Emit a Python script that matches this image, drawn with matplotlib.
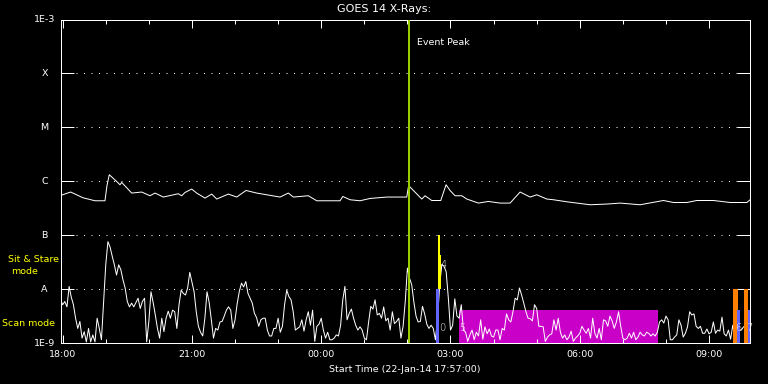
import numpy as np
import matplotlib
matplotlib.use("Agg")
import matplotlib.pyplot as plt

# ---------------- data (time in hours after 22-Jan-14 18:00) ----------------
long_t = [-0.05, 0.186, 0.471, 0.75, 0.959, 0.982, 1.028, 1.082, 1.253, 1.33, 1.37,
          1.602, 1.834, 2.026, 2.143, 2.335, 2.683, 2.762, 2.839, 2.994, 3.11, 3.303,
          3.459, 3.575, 3.844, 4.039, 4.255, 4.503, 5.044, 5.237, 5.353, 5.701, 5.896,
          6.437, 6.50, 6.669, 6.901, 7.133, 7.521, 7.83, 7.985, 8.022, 8.062, 8.333,
          8.41, 8.565, 8.774, 8.897, 8.99, 9.106, 9.262, 9.378, 9.647, 9.879, 10.151,
          10.383, 10.615, 10.847, 11.003, 11.235, 11.388, 11.699, 12.24, 12.628,
          12.937, 13.4, 13.942, 14.174, 14.485, 14.717, 15.102, 15.49, 15.877, 15.954]
long_logflux = [-6.264, -6.20, -6.306, -6.362, -6.362, -6.362, -6.083, -5.879, -6.004,
                -6.065, -6.022, -6.219, -6.20, -6.269, -6.219, -6.293, -6.232, -6.269,
                -6.208, -6.145, -6.219, -6.312, -6.238, -6.330, -6.238, -6.293, -6.171,
                -6.219, -6.293, -6.219, -6.293, -6.269, -6.362, -6.362, -6.282, -6.343,
                -6.362, -6.319, -6.293, -6.293, -6.293, -6.108, -6.108, -6.330, -6.269,
                -6.357, -6.357, -6.065, -6.171, -6.269, -6.269, -6.33, -6.405, -6.375,
                -6.405, -6.405, -6.20, -6.293, -6.251, -6.33, -6.343, -6.381, -6.436,
                -6.423, -6.405, -6.436, -6.357, -6.394, -6.394, -6.357, -6.357, -6.394,
                -6.394, -6.343]

short_start = -0.05   # 17:57
short_step = 0.05     # 3-minute samples
short_logflux = [
    -8.20, -8.29, -8.23, -8.33, -7.95, -8.15, -8.29, -8.54, -8.73, -8.60,
    -8.91, -8.79, -8.98, -8.73, -8.98, -8.85, -8.98, -8.54, -8.73, -8.94,
    -8.23, -7.55, -7.12, -7.22, -7.39, -7.55, -7.74, -7.55, -7.64, -7.83,
    -7.98, -8.23, -8.33, -8.26, -8.33, -8.25, -8.17, -8.36, -8.23, -8.17,
    -8.98, -8.60, -8.05, -8.25, -8.48, -8.73, -8.91, -8.54, -8.79, -8.54,
    -8.41, -8.54, -8.39, -8.42, -8.73, -8.29, -8.02, -8.08, -8.11, -7.98,
    -7.69, -7.87, -8.05, -8.42, -8.69, -8.80, -8.87, -8.54, -8.05, -8.25,
    -8.57, -8.91, -8.73, -8.76, -8.61, -8.60, -8.50, -8.39, -8.33, -8.39,
    -8.73, -8.57, -8.27, -8.04, -7.89, -7.96, -7.86, -8.08, -8.17, -8.26,
    -8.45, -8.53, -8.69, -8.57, -8.54, -8.54, -8.76, -8.87, -8.87, -8.73,
    -8.73, -8.54, -8.80, -8.69, -8.29, -8.02, -8.14, -8.20, -8.42, -8.76,
    -8.73, -8.70, -8.57, -8.78, -8.57, -8.42, -8.67, -8.39, -8.97, -8.69,
    -8.65, -8.54, -8.76, -8.91, -8.80, -8.94, -8.94, -8.91, -8.85, -8.87,
    -8.67, -8.20, -7.95, -8.57, -8.45, -8.37, -8.54, -8.67, -8.76, -8.70,
    -8.76, -8.91, -8.94, -8.61, -8.32, -8.37, -8.20, -8.48, -8.45, -8.54,
    -8.33, -8.59, -8.54, -8.76, -8.42, -8.64, -8.60, -8.54, -8.91, -8.69,
    -8.23, -7.61, -7.80, -7.92, -8.24, -8.50, -8.61, -8.60, -8.32, -8.46,
    -8.65, -8.73, -8.67, -8.73, -8.94, -8.54, -7.92, -7.54, -7.58, -7.68,
    -8.17, -8.76, -8.67, -8.18, -8.50, -8.54, -8.29, -8.76, -8.80, -8.97,
    -8.85, -8.76, -8.94, -8.80, -8.87, -8.57, -8.93, -8.70, -8.83, -8.74,
    -8.87, -8.89, -8.76, -8.76, -8.94, -8.73, -8.76, -8.46, -8.57, -8.61,
    -8.42, -8.17, -8.20, -7.98, -8.11, -8.26, -8.42, -8.54, -8.55, -8.59,
    -8.29, -8.36, -8.69, -8.69, -8.70, -8.97, -8.89, -8.85, -8.83, -8.57,
    -8.76, -8.54, -8.80, -8.91, -8.85, -8.94, -8.89, -8.78, -8.97, -8.91,
    -8.87, -8.82, -8.69, -8.76, -8.82, -8.73, -8.91, -8.54, -8.82, -8.91,
    -8.73, -8.94, -8.57, -8.59, -8.69, -8.50, -8.59, -8.73, -8.61, -8.42,
    -8.69, -8.91, -8.94, -8.91, -8.82, -8.91, -8.80, -8.94, -8.89, -8.80,
    -8.85, -8.87, -8.80, -8.82, -8.87, -8.83, -8.87, -8.80, -8.61, -8.57,
    -8.63, -8.50, -8.57, -8.94, -8.94, -8.89, -8.85, -8.57, -8.67, -8.89,
    -8.82, -8.70, -8.42, -8.48, -8.46, -8.69, -8.73, -8.69, -8.82, -8.82,
    -8.74, -8.83, -8.80, -8.61, -8.82, -8.76, -8.78, -8.52, -8.83, -8.87,
    -8.76, -8.93, -8.67, -8.89, -8.83, -8.76, -8.76, -8.70, -8.70, -8.76,
    -8.80]

x_range = (-0.05, 15.95)
xtick_pos = [0, 3, 6, 9, 12, 15]
xtick_labels = ["18:00", "21:00", "00:00", "03:00", "06:00", "09:00"]
ytick_flux = [1e-9, 1e-8, 1e-7, 1e-6, 1e-5, 1e-4, 1e-3]
ytick_labels = ["1E-9", "A", "B", "C", "M", "X", "1E-3"]
grid_flux = [1e-8, 1e-7, 1e-6, 1e-5, 1e-4]

event_peak_t = 8.03
# observation bars: (t_start, t_end, flux_low, flux_high)
sitstare_bars = [(8.705, 8.765, 1e-8, 1e-7), (8.755, 8.79, 1e-8, 4.2e-8)]
scan_bars_blue = [(8.665, 8.728, 1e-9, 1e-8), (15.652, 15.722, 1e-9, 4.1e-9),
                  (15.892, 15.954, 1e-9, 4.1e-9)]
scan_region = (9.199, 13.818, 1e-9, 4.1e-9)
orange_bars = [(15.559, 15.664, 1e-9, 1e-8), (15.815, 15.915, 1e-9, 1e-8)]
# small observation number labels: (time, flux, text)
obs_labels = [(8.84, 10 ** -7.55, "4"), (8.80, 10 ** -8.72, "0"),
              (9.27, 10 ** -8.72, "5"), (15.70, 10 ** -8.72, "6"),
              (15.93, 10 ** -8.72, "7")]

FONT = "DejaVu Sans"

# ---------------- figure ----------------
W, H = 768, 384
fig = plt.figure(figsize=(W / 100, H / 100), dpi=100, facecolor="black")
L, R, T, B = 60.5, 750.0, 19.5, 343.0
ax = fig.add_axes([L / W, 1 - B / H, (R - L) / W, (B - T) / H])
ax.set_facecolor("black")
ax.set_yscale("log")
ax.set_xlim(*x_range)
ax.set_ylim(1e-9, 1e-3)

px = 0.72  # one pixel in points

# scan region (under data)
t0, t1, f0, f1 = scan_region
ax.bar(t0, f1 - f0, bottom=f0, width=t1 - t0, align="edge",
       color="#c800c8", linewidth=0, zorder=1)

# grid dotted lines
for g in grid_flux:
    ax.axhline(g, color="white", lw=px, linestyle=(0, (1.0, 6.5)), zorder=0.5)

# data
short_t = short_start + short_step * np.arange(len(short_logflux))
ax.plot(short_t, 10 ** np.array(short_logflux), color="white", lw=px, zorder=2)
ax.plot(long_t, 10 ** np.array(long_logflux), color="white", lw=px, zorder=2)

# bars
for (a, b, lo, hi) in orange_bars:
    ax.bar(a, hi - lo, bottom=lo, width=b - a, align="edge", color="#ff8000",
           linewidth=0, zorder=3)
for (a, b, lo, hi) in scan_bars_blue:
    ax.bar(a, hi - lo, bottom=lo, width=b - a, align="edge", color="#6464ff",
           linewidth=0, zorder=3.5)
for (a, b, lo, hi) in sitstare_bars:
    ax.bar(a, hi - lo, bottom=lo, width=b - a, align="edge", color="#ffff00",
           linewidth=0, zorder=3.5)

for (t, f, s) in obs_labels:
    ax.text(t, f, s, color="white", fontsize=7, family=FONT, ha="center",
            va="center", zorder=4.5, fontweight="light")

# event peak
ax.axvline(event_peak_t, color="#9acd00", lw=2 * px, zorder=4)
ax.text(8.224, 10 ** -3.427, "Event Peak", color="white", fontsize=6.8,
        family=FONT, ha="left", va="center", zorder=5)

# axes styling
for s in ax.spines.values():
    s.set_color("white")
    s.set_linewidth(px)
ax.set_yticks(ytick_flux)
ax.set_yticklabels([])
ax.yaxis.set_minor_locator(matplotlib.ticker.NullLocator())
ax.tick_params(axis="y", which="major", direction="in", length=9.5, width=px,
               color="white", left=True, right=True)
ax.set_xticks(xtick_pos)
ax.set_xticklabels(xtick_labels, color="white", fontsize=6.8, family=FONT)
ax.set_xticks(np.arange(0, 16, 1), minor=True)
ax.tick_params(axis="x", which="major", direction="in", length=6, width=px,
               color="white", top=True, bottom=True, pad=5)
ax.tick_params(axis="x", which="minor", direction="in", length=3, width=px,
               color="white", top=True, bottom=True)

ytr = ax.get_yaxis_transform()
for f, lab in zip(ytick_flux, ytick_labels):
    ax.text(-0.0232, f, lab, transform=ytr, color="white", fontsize=6.8,
            family=FONT, ha="center", va="center", clip_on=False)

# left side mode labels
fig.text(34 / W, 1 - 259 / H, "Sit & Stare", color="#ffff00", fontsize=6.8,
         family=FONT, ha="center", va="center")
fig.text(24.5 / W, 1 - 271 / H, "mode", color="#ffff00", fontsize=6.8,
         family=FONT, ha="center", va="center")
fig.text(28 / W, 1 - 323 / H, "Scan mode", color="#ffff00", fontsize=6.8,
         family=FONT, ha="center", va="center")

fig.text(384 / W, 1 - 9 / H, "GOES 14 X-Rays:", color="white", fontsize=8,
         family=FONT, ha="center", va="center")
fig.text(404.5 / W, 1 - 369 / H, "Start Time (22-Jan-14 17:57:00)", color="white",
         fontsize=6.8, family=FONT, ha="center", va="center")

fig.savefig("out.png", dpi=100, facecolor="black")
